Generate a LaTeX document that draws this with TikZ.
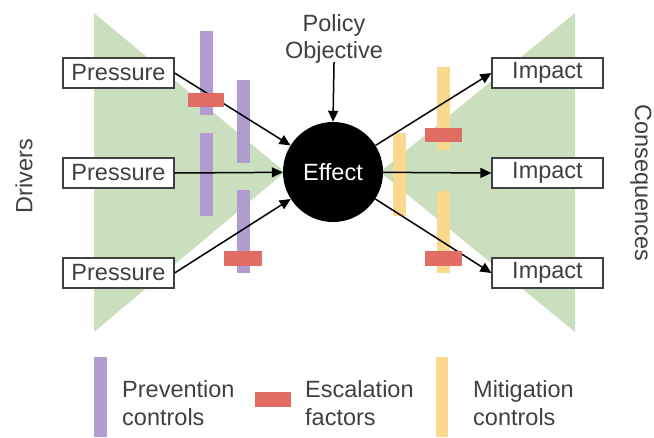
\documentclass[tikz,border=0pt]{standalone}
\usepackage{fontspec}
\setmainfont{Liberation Sans}
\usetikzlibrary{arrows.meta}
\definecolor{drivergreen}{RGB}{201,223,189}
\definecolor{prevpurple}{RGB}{177,156,208}
\definecolor{escred}{RGB}{224,108,100}
\definecolor{mityellow}{RGB}{250,217,142}
\definecolor{inkgray}{RGB}{64,64,64}

\begin{document}
\begin{tikzpicture}[
    x=1pt, y=-1pt,
    font=\fontsize{23.5}{27.5}\selectfont,
    every node/.style={text=inkgray},
    labelbox/.style={draw=inkgray, line width=1.2pt, fill=white, minimum width=111pt, minimum height=30pt, inner sep=0pt},
    link/.style={line width=1.5pt, -{Triangle[length=11pt, width=10pt]}},
    legendtext/.style={anchor=west, align=left, inner sep=0pt}
]
\useasboundingbox (0,0) rectangle (654,437);

\fill[drivergreen] (94,13) -- (285,172) -- (94,332) -- cycle;
\fill[drivergreen] (575,13) -- (380,172) -- (575,332) -- cycle;

\fill[prevpurple] (200,31) rectangle (213,115);
\fill[prevpurple] (237,80) rectangle (250,163);
\fill[prevpurple] (200,133) rectangle (213,216);
\fill[prevpurple] (237,190) rectangle (250,273);

\fill[mityellow] (393,133) rectangle (406,216);
\fill[mityellow] (437,67) rectangle (450,150);
\fill[mityellow] (437,191) rectangle (450,273);

\node[circle, fill=black, minimum size=100pt, inner sep=0pt, text=white] (effect) at (333,172) {Effect};
\node[align=center, inner sep=0pt] (policy) at (334,39) {Policy\\Objective};

\foreach \y [count=\i] in {73,173,273} {
    \node[labelbox] (p\i) at (118.5,\y) {Pressure};
    \node[labelbox] (m\i) at (547.5,\y) {Impact};
    \draw[link] (p\i.east) -- (effect);
    \draw[link] (effect) -- (m\i.west);
}
\draw[link, shorten <=-2pt] (policy.south) -- (effect.north);

\fill[escred] (188,93) rectangle (224,107);
\fill[escred] (224,251) rectangle (262,266);
\fill[escred] (425,128) rectangle (462,142);
\fill[escred] (425,251) rectangle (462,266);

\node[rotate=90] (drivers) at (24,176) {Drivers};
\node[rotate=-90] (conseq) at (641,183) {Consequences};

\fill[prevpurple] (94,357) rectangle (107,437);
\node[legendtext] (prevtext) at (122,403) {Prevention\\controls};
\fill[escred] (255,392) rectangle (291,407);
\node[legendtext] (esctext) at (305,403) {Escalation\\factors};
\fill[mityellow] (436,357) rectangle (448,437);
\node[legendtext] (mittext) at (473,403) {Mitigation\\controls};
\end{tikzpicture}
\end{document}
